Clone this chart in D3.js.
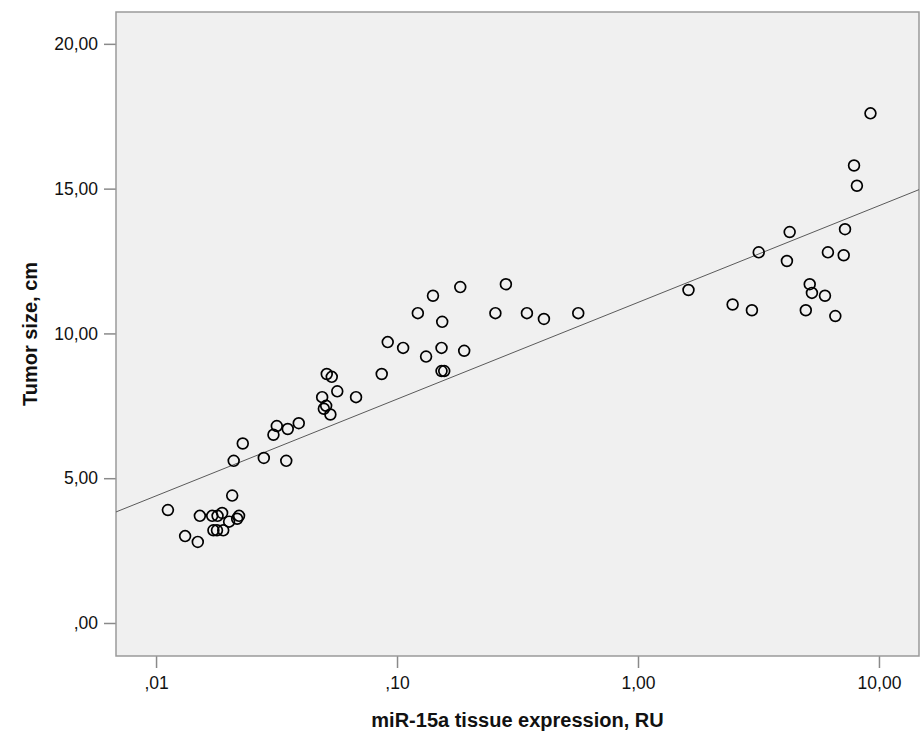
<!DOCTYPE html>
<html>
<head>
<meta charset="utf-8">
<script src="https://cdn.jsdelivr.net/npm/d3@7"></script>
<style>
  body { margin: 0; background: #fff; }
  .tick text { font-family: "Liberation Sans", Arial, sans-serif; font-size: 17.5px; fill: #111; }
  .axis-title { font-family: "Liberation Sans", Arial, sans-serif; font-size: 20px; font-weight: bold; fill: #111; }
</style>
</head>
<body>
<div id="chartContainer"></div>
<script>
// miR-15a tissue expression (RU), log scale
const expression = [
    0.0112, 0.0132, 0.0149, 0.0152, 0.0171, 0.0180, 0.0188, 0.0173, 0.0179, 0.0190,
    0.0201, 0.0207, 0.0217, 0.0221, 0.0210, 0.0229, 0.0280, 0.0347, 0.0307, 0.0317,
    0.0352, 0.0391, 0.0489, 0.0508, 0.0497, 0.0529, 0.0565, 0.0676, 0.0511, 0.0536,
    0.0864, 0.0915, 0.106, 0.122, 0.141, 0.183, 0.154, 0.153, 0.132, 0.190,
    0.153, 0.157, 0.283, 0.256, 0.346, 0.407, 0.565,
    1.62, 2.47, 2.97, 3.17, 4.15, 4.26, 4.97, 5.16, 5.27, 5.97, 6.14, 6.59, 7.14,
    7.23, 7.88, 8.10, 9.22
];

// tumor size, cm
const tumorSize = [
    3.9, 3.0, 2.8, 3.7, 3.7, 3.7, 3.8, 3.2, 3.2, 3.2,
    3.5, 4.4, 3.6, 3.7, 5.6, 6.2, 5.7, 5.6, 6.5, 6.8,
    6.7, 6.9, 7.8, 7.5, 7.4, 7.2, 8.0, 7.8, 8.6, 8.5,
    8.6, 9.7, 9.5, 10.7, 11.3, 11.6, 10.4, 9.5, 9.2, 9.4,
    8.7, 8.7, 11.7, 10.7, 10.7, 10.5, 10.7,
    11.5, 11.0, 10.8, 12.8, 12.5, 13.5, 10.8, 11.7, 11.4, 11.3, 12.8, 10.6, 12.7,
    13.6, 15.8, 15.1, 17.6
];

const xTicks = [0.01, 0.1, 1, 10];
const yTicks = [0, 5, 10, 15, 20];

// linear fit: size = fitIntercept + fitSlope * log10(expression)
const fitIntercept = 11.07;
const fitSlope = 3.34;

const svgWidth = 922;
const svgHeight = 733;
const margin = { top: 12, right: 3, bottom: 77, left: 116 };
const chartWidth = svgWidth - margin.left - margin.right;
const chartHeight = svgHeight - margin.top - margin.bottom;

const svg = d3.select('#chartContainer')
    .append('svg')
    .attr('width', svgWidth)
    .attr('height', svgHeight);

const chart = svg.append('g')
    .attr('transform', `translate(${margin.left}, ${margin.top})`);

const xScale = d3.scaleLog()
    .domain([0.00682, 14.66])
    .range([0, chartWidth]);

const yScale = d3.scaleLinear()
    .domain([-1.14, 21.1])
    .range([chartHeight, 0]);

const locale = d3.formatLocale({ decimal: ',', thousands: '.', grouping: [3], currency: ['', ''] });
const fmt2 = locale.format('.2f');
const spssFormat = d => fmt2(d).replace(/^0,/, ',');

chart.append('rect')
    .attr('width', chartWidth)
    .attr('height', chartHeight)
    .attr('fill', '#f0f0f0');

const xAxis = d3.axisBottom(xScale)
    .tickValues(xTicks)
    .tickFormat(spssFormat)
    .tickSize(12)
    .tickPadding(9);

chart.append('g')
    .attr('class', 'x-axis')
    .attr('transform', `translate(0, ${chartHeight})`)
    .call(xAxis);

const yAxis = d3.axisLeft(yScale)
    .tickValues(yTicks)
    .tickFormat(spssFormat)
    .tickSize(12)
    .tickPadding(6);

chart.append('g')
    .attr('class', 'y-axis')
    .call(yAxis);

chart.selectAll('.domain').remove();
chart.selectAll('.tick line').attr('stroke', '#8a8a8a').attr('stroke-width', 1.5);

chart.append('rect')
    .attr('width', chartWidth)
    .attr('height', chartHeight)
    .attr('fill', 'none')
    .attr('stroke', '#9a9a9a')
    .attr('stroke-width', 1.5);

const fitLine = d3.line()
    .x(d => xScale(d))
    .y(d => yScale(fitIntercept + fitSlope * Math.log10(d)));

chart.append('path')
    .datum(xScale.domain())
    .attr('fill', 'none')
    .attr('stroke', '#5a5a5a')
    .attr('stroke-width', 1)
    .attr('d', fitLine);

const points = expression.map((v, i) => ({ x: v, y: tumorSize[i] }));

chart.selectAll('.dot')
    .data(points)
    .enter()
    .append('circle')
    .attr('class', 'dot')
    .attr('cx', d => xScale(d.x))
    .attr('cy', d => yScale(d.y))
    .attr('r', 5.4)
    .attr('fill', 'none')
    .attr('stroke', '#000')
    .attr('stroke-width', 1.7);

svg.append('text')
    .attr('class', 'axis-title')
    .attr('x', margin.left + chartWidth / 2)
    .attr('y', 727)
    .attr('text-anchor', 'middle')
    .text('miR-15a tissue expression, RU');

svg.append('text')
    .attr('class', 'axis-title')
    .attr('transform', `translate(37, ${margin.top + chartHeight / 2}) rotate(-90)`)
    .attr('text-anchor', 'middle')
    .text('Tumor size, cm');
</script>
</body>
</html>
